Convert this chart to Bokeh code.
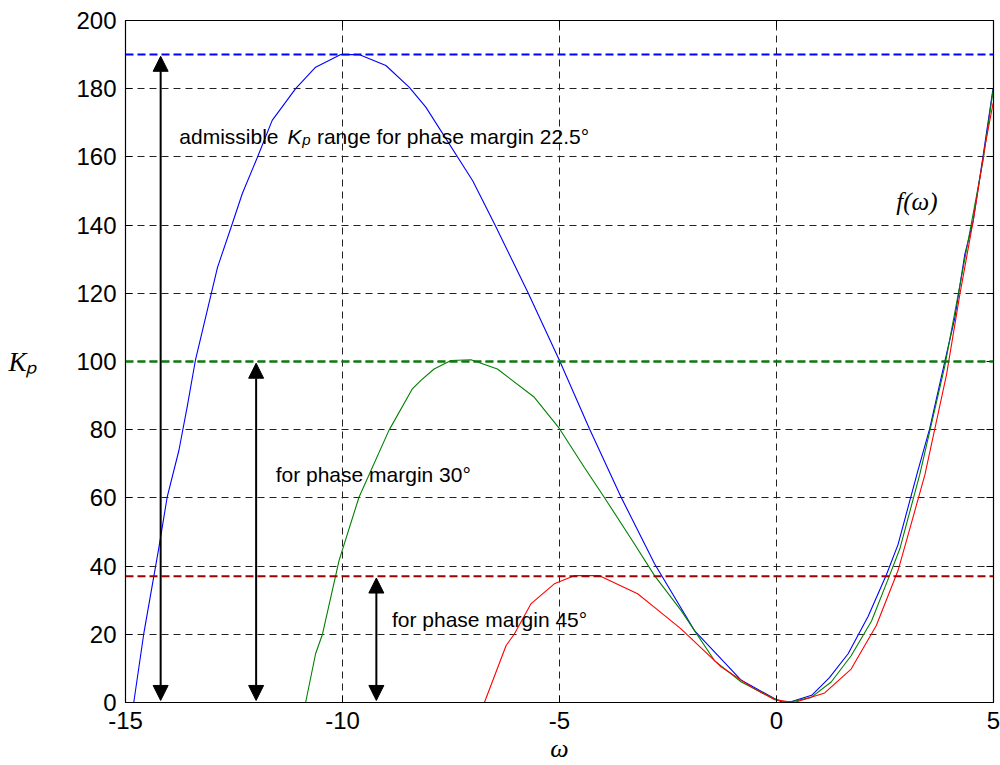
from bokeh.plotting import figure
from bokeh.models import (LinearAxis, FixedTicker, Arrow, NormalHead, Label,
                          Range1d, Span, CustomJSTickFormatter)
from bokeh.embed import file_html
from bokeh.resources import INLINE

# ---- data ----
blue_w = [-14.81, -14.58, -14.23, -14.04, -13.77, -13.58, -13.39, -12.88, -12.54,
          -12.31, -11.96, -11.62, -11.08, -10.62, -10.04, -9.62, -9.0, -8.46, -8.08,
          -7.0, -6.5, -5.73, -5.0, -4.31, -3.58, -2.81, -1.89, -0.81, -0.04, 0.15,
          0.35, 0.81, 1.22, 1.65, 2.11, 2.53, 2.80, 3.26, 3.53, 3.88, 4.11, 4.34,
          4.53, 4.76, 4.99]
blue_k = [0, 20.1, 45.5, 60.2, 73.9, 86.6, 100.3, 127.6, 140.4, 149.2, 159.9, 170.7,
          180, 186.3, 190, 190, 186.8, 180.4, 174.6, 153, 140.4, 120.3, 100.3, 80.3,
          60.2, 40.7, 21.1, 6.5, 1.1, 0, 0.3, 2.1, 7.3, 14.3, 25.2, 37.4, 46.3, 68.1,
          80.3, 100.1, 112.9, 131.5, 141.1, 160.3, 180.1]

green_w = [-10.85, -10.62, -10.46, -10.08, -9.62, -8.93, -8.39, -8.2, -7.89, -7.5,
           -7.04, -6.43, -5.58, -5.0, -4.43, -3.97, -3.35, -2.81, -2.2, -1.43, -0.81,
           -0.04, 0.26, 0.80, 1.26, 1.72, 2.19, 2.57, 2.84, 3.30, 3.88, 4.34, 4.76, 4.99]
green_k = [0, 14.3, 20.1, 41.6, 60.2, 79.8, 92, 94.4, 97.8, 100.3, 100.5, 97.8, 89.5,
           80.3, 69, 60.2, 48, 37.2, 27, 12.3, 6.0, 1.0, 0, 1.5, 6, 13.7, 23.9, 36.1,
           45, 66.8, 98.8, 130.2, 159, 179.5]

red_w = [-6.73, -6.23, -6.04, -5.66, -5.12, -4.66, -4.08, -3.2, -2.81, -2.2, -1.27,
         -0.51, -0.04, 0.41, 1.11, 1.72, 2.30, 2.80, 3.11, 3.42, 3.92, 4.22, 4.53,
         4.80, 4.99]
red_k = [0, 16.7, 20.1, 28.9, 34.8, 37.2, 37.2, 31.9, 27.9, 21.6, 10.4, 4.0, 0.8, 0,
         2.8, 9.8, 22.6, 38.7, 52.7, 66.8, 96.3, 119.3, 141.1, 162.9, 175.7]

levels = [190, 100, 37]           # max admissible Kp for 22.5, 30, 45 deg
x_ticks = [-15, -10, -5, 0, 5]
y_ticks = [0, 20, 40, 60, 80, 100, 120, 140, 160, 180, 200]

SANS = "Liberation Sans"
SERIF = "Liberation Serif"

p = figure(frame_width=868, frame_height=682,
           x_range=Range1d(-15, 5), y_range=Range1d(0, 200),
           output_backend="svg", toolbar_location=None,
           min_border_left=125, min_border_right=7,
           min_border_top=20, min_border_bottom=63,
           background_fill_color="white", border_fill_color="white")

p.outline_line_color = "black"
p.outline_line_width = 1.2

plain = CustomJSTickFormatter(code="return tick.toFixed(0);")
for ax in (p.xaxis[0], p.yaxis[0]):
    ax.major_tick_in = 7
    ax.major_tick_out = 0
    ax.minor_tick_line_color = None
    ax.axis_line_color = "black"
    ax.major_tick_line_color = "black"
    ax.major_label_text_font = SANS
    ax.major_label_text_font_size = "24px"
    ax.major_label_text_color = "black"
    ax.major_label_standoff = 9
    ax.formatter = plain
p.xaxis[0].ticker = FixedTicker(ticks=x_ticks)
p.yaxis[0].ticker = FixedTicker(ticks=y_ticks)

# axis labels
p.xaxis[0].axis_label = "ω"
p.xaxis[0].axis_label_text_font = SERIF
p.xaxis[0].axis_label_text_font_style = "italic"
p.xaxis[0].axis_label_text_font_size = "26px"
p.xaxis[0].axis_label_standoff = 2
p.xaxis[0].axis_label_text_color = "black"

p.yaxis[0].axis_label = "Kₚ"
p.yaxis[0].axis_label_orientation = "horizontal"
p.yaxis[0].axis_label_text_font = SERIF
p.yaxis[0].axis_label_text_font_style = "italic"
p.yaxis[0].axis_label_text_font_size = "27px"
p.yaxis[0].axis_label_standoff = 36
p.yaxis[0].axis_label_text_color = "black"

# mirrored ticks on top and right (box style)
blank = CustomJSTickFormatter(code="return '';")
top = LinearAxis(ticker=FixedTicker(ticks=x_ticks), major_tick_in=7, major_tick_out=0,
                 minor_tick_line_color=None, formatter=blank,
                 major_label_standoff=0, axis_line_color="black")
right = LinearAxis(ticker=FixedTicker(ticks=y_ticks), major_tick_in=7, major_tick_out=0,
                   minor_tick_line_color=None, formatter=blank,
                   major_label_standoff=0, axis_line_color="black")
p.add_layout(top, "above")
p.add_layout(right, "right")

for g in (p.xgrid[0], p.ygrid[0]):
    g.grid_line_color = "#222222"
    g.grid_line_dash = "7 5"
    g.grid_line_width = 1
p.xgrid[0].ticker = FixedTicker(ticks=[-10, -5, 0])
p.ygrid[0].ticker = FixedTicker(ticks=y_ticks[1:-1])

# admissible levels
level_colors = ["#0000ff", "#117711", "#a00000"]
level_widths = [2, 2.5, 2]
for lv, c, w in zip(levels, level_colors, level_widths):
    p.add_layout(Span(location=lv, dimension="width", line_color=c,
                      line_width=w, line_dash="8 4"))

# curves
p.line(blue_w, blue_k, line_color="#0000ff", line_width=1.1)
p.line(green_w, green_k, line_color="#008000", line_width=1.1)
p.line(red_w, red_k, line_color="#ff0000", line_width=1.1)

# double arrows
arrow_x = [-14.19, -11.99, -9.22]
for ax_, lv in zip(arrow_x, levels):
    p.add_layout(Arrow(x_start=ax_, y_start=0.6, x_end=ax_, y_end=lv - 0.5,
                       line_width=2, line_color="black",
                       start=NormalHead(size=15, fill_color="black", line_color="black"),
                       end=NormalHead(size=15, fill_color="black", line_color="black")))

def lab(x, y, t, font=SANS, size="21px", style="normal", baseline="alphabetic",
        align="left"):
    p.add_layout(Label(x=x, y=y, text=t, text_font=font, text_font_size=size,
                       text_font_style=style, text_baseline=baseline,
                       text_align=align, text_color="black"))

# annotation texts
lab(-13.76, 166.0, "admissible")
lab(-11.27, 166.0, "K", style="italic")
lab(-10.93, 165.0, "p", size="15px", style="italic")
lab(-10.59, 166.0, "range for phase margin 22.5°")
lab(-11.54, 67.0, "for phase margin 30°")
lab(-8.86, 24.2, "for phase margin 45°")
lab(2.76, 146.9, "f(ω)", font=SERIF, size="25px", style="italic", baseline="middle")

open("out.html", "w").write(file_html(p, INLINE))
